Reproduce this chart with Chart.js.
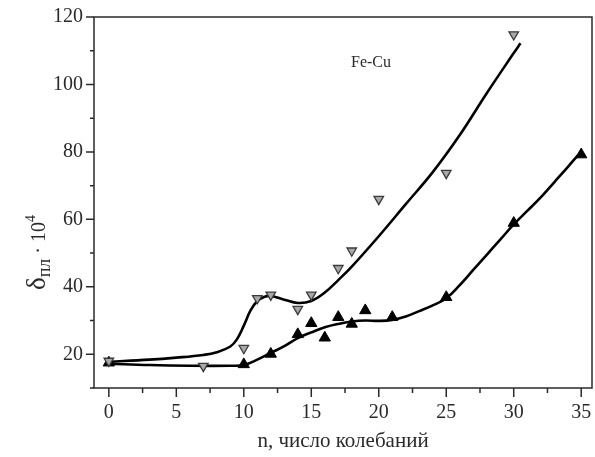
<!DOCTYPE html>
<html>
<head>
<meta charset="utf-8">
<script src="https://cdn.jsdelivr.net/npm/chart.js@4.4.0/dist/chart.umd.min.js"></script>
<style>
  html, body { margin: 0; padding: 0; background: #fff; }
  #wrap { position: relative; width: 595px; height: 457px; }
</style>
</head>
<body>
<div id="wrap"><canvas id="myChart"></canvas></div>
<script>
// measured points (open triangles / filled triangles)
const nOpen = [0, 7, 10, 11, 12, 14, 15, 17, 18, 20, 25, 30];
const dOpen = [18, 16.5, 21.8, 36.6, 37.6, 33.4, 37.6, 45.5, 50.7, 66, 73.7, 114.8];
const nFilled = [0, 10, 12, 14, 15, 16, 17, 18, 19, 21, 25, 30, 35];
const dFilled = [17.5, 17, 20.1, 25.9, 29.2, 24.9, 31, 29, 33, 31, 36.9, 58.9, 79.2];

// fitted curves
const nCurve1 = [0, 3, 5, 7, 8, 9, 9.5, 10, 10.5, 11, 11.5, 12, 13, 14, 15, 16, 17, 18, 20, 22, 24, 26, 28, 30, 30.5];
const dCurve1 = [17.8, 18.4, 19, 19.8, 20.6, 22.3, 24.5, 28.5, 33, 35.8, 37, 37.3, 36.2, 35.2, 35.8, 38.3, 42, 46, 55, 64.5, 74, 85, 97.4, 109.3, 112.2];
const nCurve2 = [0, 3, 6, 9, 10, 11, 12, 13, 14, 15, 16, 17, 18, 19, 20, 21, 22, 23, 24, 25, 26, 27, 28, 29, 30, 31, 32, 33, 34, 34.8];
const dCurve2 = [17.2, 16.8, 16.6, 16.6, 16.8, 18.4, 20.4, 22.4, 24.8, 26.5, 28, 29, 29.7, 30, 29.9, 30.2, 31.2, 32.8, 34.5, 36.6, 40.5, 45, 49.5, 54, 58.5, 62.5, 66.5, 71, 75.5, 79.2];

// axis ticks
const xTicks = [0, 5, 10, 15, 20, 25, 30, 35];
const xMinor = [2.5, 7.5, 12.5, 17.5, 22.5, 27.5, 32.5];
const yTicks = [20, 40, 60, 80, 100, 120];
const yMinor = [10, 30, 50, 70, 90, 110];

const serif = "'Liberation Serif', 'DejaVu Serif', serif";
const ink = '#2a2a2a';
const toXY = (xs, ys) => xs.map((x, i) => ({x: x, y: ys[i]}));

// frame, tick marks, y title and label
const framePlugin = {
    id: 'frame',
    afterDraw(chart) {
        const {ctx, chartArea: a, scales: {x, y}} = chart;
        ctx.save();
        ctx.strokeStyle = ink;
        ctx.lineWidth = 1.5;
        ctx.strokeRect(a.left, a.top, a.right - a.left, a.bottom - a.top);
        ctx.beginPath();
        xTicks.forEach(v => { const p = x.getPixelForValue(v); ctx.moveTo(p, a.bottom); ctx.lineTo(p, a.bottom + 9); });
        xMinor.forEach(v => { const p = x.getPixelForValue(v); ctx.moveTo(p, a.bottom); ctx.lineTo(p, a.bottom + 5); });
        yTicks.forEach(v => { const p = y.getPixelForValue(v); ctx.moveTo(a.left, p); ctx.lineTo(a.left - 8, p); });
        yMinor.forEach(v => { const p = y.getPixelForValue(v); ctx.moveTo(a.left, p); ctx.lineTo(a.left - 4, p); });
        ctx.stroke();

        ctx.fillStyle = ink;
        ctx.font = '16px ' + serif;
        ctx.textAlign = 'center';
        ctx.textBaseline = 'middle';
        ctx.fillText('Fe-Cu', 371, 63);

        // δпл · 10^4, rotated
        ctx.translate(45, 248);
        ctx.rotate(-Math.PI / 2);
        ctx.textAlign = 'left';
        ctx.textBaseline = 'alphabetic';
        let cx = -42;
        const part = (t, size, dy) => {
            ctx.font = size + 'px ' + serif;
            ctx.fillText(t, cx, dy);
            cx += ctx.measureText(t).width;
        };
        part('δ', 27, 0);
        part('пл', 18, 5);
        part(' · 10', 20, 0);
        part('4', 14, -10);
        ctx.restore();
    }
};

new Chart(document.getElementById('myChart'), {
    type: 'scatter',
    data: {
        datasets: [
            {
                data: toXY(nOpen, dOpen),
                pointStyle: 'triangle',
                rotation: 180,
                pointRadius: 5.5,
                pointBackgroundColor: '#a8a8a8',
                pointBorderColor: '#3a3a3a',
                pointBorderWidth: 1.3,
                showLine: false
            },
            {
                data: toXY(nFilled, dFilled),
                pointStyle: 'triangle',
                pointRadius: 6.5,
                pointBackgroundColor: '#000',
                pointBorderColor: '#000',
                pointBorderWidth: 1,
                showLine: false
            },
            {
                type: 'line',
                data: toXY(nCurve1, dCurve1),
                borderColor: '#000',
                borderWidth: 2.6,
                pointRadius: 0,
                tension: 0.4,
                fill: false
            },
            {
                type: 'line',
                data: toXY(nCurve2, dCurve2),
                borderColor: '#000',
                borderWidth: 2.6,
                pointRadius: 0,
                tension: 0.4,
                fill: false
            }
        ]
    },
    options: {
        responsive: true,
        maintainAspectRatio: false,
        animation: false,
        events: [],
        // autoPadding would add room for the point radius on the right
        layout: { autoPadding: false, padding: { top: 17, right: 3, left: 0, bottom: 0 } },
        plugins: { legend: { display: false }, tooltip: { enabled: false } },
        scales: {
            x: {
                type: 'linear',
                min: -1.1,
                max: 35.8,
                afterBuildTicks: s => { s.ticks = xTicks.map(v => ({value: v})); },
                afterFit: s => { s.height = 69; s.paddingLeft = 0; s.paddingRight = 0; },
                grid: { display: false, drawTicks: false },
                border: { display: false },
                ticks: { color: ink, font: { family: serif, size: 20, lineHeight: 2.5 }, padding: 0, maxRotation: 0 },
                title: {
                    display: true,
                    text: 'n, число колебаний',
                    color: ink,
                    font: { family: serif, size: 21 },
                    padding: { top: 0, bottom: 3 }
                }
            },
            y: {
                type: 'linear',
                min: 10,
                max: 120,
                afterBuildTicks: s => { s.ticks = yTicks.map(v => ({value: v})); },
                afterFit: s => { s.width = 94; s.paddingTop = 0; s.paddingBottom = 0; },
                grid: { display: false, drawTicks: false },
                border: { display: false },
                ticks: { color: ink, font: { family: serif, size: 20 }, padding: 11 }
            }
        }
    },
    plugins: [framePlugin]
});
</script>
</body>
</html>
